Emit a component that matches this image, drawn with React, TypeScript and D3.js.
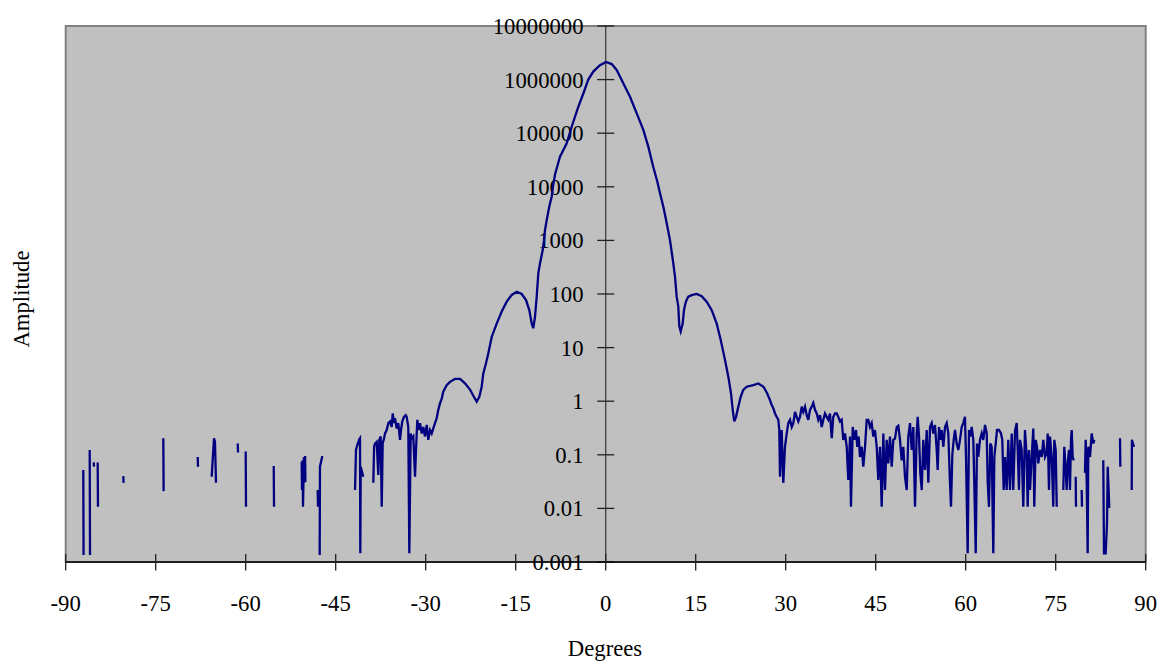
import React from "react";
import * as d3 from "d3";

type Pt = [number, number | null];

// Isolated fragments on the far left (gaps = null)
const leftBursts: Pt[] = [
  [-87.07, 0.052], [-87.02, 0.00135], [-86.5, null],
  [-86.0, 0.123], [-85.95, 0.00135], [-85.6, null],
  [-85.33, 0.072], [-85.28, 0.06], [-85.0, null],
  [-84.67, 0.072], [-84.62, 0.0107], [-84.0, null],
  [-80.4, 0.04], [-80.35, 0.03], [-80.0, null],
  [-73.73, 0.204], [-73.68, 0.021], [-73.0, null],
  [-68.0, 0.091], [-67.95, 0.06], [-67.0, null],
  [-65.67, 0.039], [-65.28, 0.204], [-65.12, 0.174], [-64.95, 0.03], [-64.0, null],
  [-61.33, 0.162], [-61.28, 0.11], [-61.0, null],
  [-60.0, 0.115], [-59.95, 0.0107], [-59.0, null],
  [-55.33, 0.062], [-55.28, 0.0107], [-55.0, null],
  [-50.67, 0.074], [-50.62, 0.022], [-50.5, 0.079], [-50.45, 0.0107],
  [-50.3, 0.09], [-50.25, 0.03], [-50.1, 0.095], [-50.05, 0.031], [-49.0, null],
  [-48.0, 0.022], [-47.95, 0.0107], [-47.8, null],
  [-47.67, 0.00135], [-47.62, 0.06], [-47.23, 0.095], [-46.0, null],
  [-41.78, 0.022], [-41.62, 0.123], [-41.4, 0.151], [-41.07, 0.195],
  [-40.95, 0.204], [-40.9, 0.00145], [-40.83, 0.06], [-40.4, 0.039], [-39.5, null],
];

// Noisy floor and sidelobes on the left
const leftSidelobes: Pt[] = [
  [-38.73, 0.03], [-38.6, 0.141], [-38.45, 0.162], [-38.17, 0.174], [-37.9, 0.042],
  [-37.73, 0.191], [-37.5, 0.219], [-37.33, 0.0107], [-37.17, 0.162], [-36.95, 0.2],
  [-36.78, 0.25], [-36.5, 0.29], [-36.23, 0.39], [-35.95, 0.42], [-35.67, 0.33],
  [-35.5, 0.59], [-35.28, 0.39], [-35.12, 0.48], [-34.83, 0.31], [-34.57, 0.39],
  [-34.28, 0.19], [-34.12, 0.29], [-33.9, 0.42], [-33.62, 0.51], [-33.33, 0.55],
  [-33.17, 0.51], [-32.9, 0.33], [-32.73, 0.00145], [-32.5, 0.25], [-32.33, 0.2],
  [-32.07, 0.22], [-31.78, 0.039], [-31.62, 0.12], [-31.4, 0.45], [-31.17, 0.29],
  [-30.95, 0.39], [-30.67, 0.25], [-30.4, 0.33], [-30.12, 0.22], [-29.83, 0.36],
  [-29.57, 0.19], [-29.28, 0.29], [-29.0, 0.25], [-28.73, 0.31], [-28.45, 0.39],
  [-28.17, 0.48], [-27.9, 0.69], [-27.62, 0.91], [-27.33, 1.12], [-27.07, 1.5],
  [-26.5, 2.0], [-25.95, 2.3], [-25.12, 2.6], [-24.28, 2.6], [-23.45, 2.15],
  [-22.62, 1.65], [-21.95, 1.2], [-21.5, 0.98], [-21.07, 1.2], [-20.67, 1.86],
  [-20.4, 3.3], [-19.95, 5.1], [-19.57, 7.8], [-19.0, 15.8], [-18.17, 28],
  [-17.33, 47], [-16.5, 72], [-15.67, 96], [-14.83, 110], [-14.0, 100],
  [-13.28, 77], [-12.73, 50], [-12.33, 28], [-12.07, 23], [-11.78, 38],
  [-11.5, 89], [-11.23, 245], [-10.95, 370],
];

// Main lobe
const mainLobe: Pt[] = [
  [-10.5, 660], [-10.28, 1000], [-10.12, 1550], [-9.83, 2400], [-9.4, 4300],
  [-9.0, 6600], [-8.73, 11000], [-8.45, 17000], [-7.62, 36300], [-6.5, 64600],
  [-5.67, 132000], [-4.57, 309000], [-3.73, 550000], [-2.9, 1000000], [-2.07, 1410000],
  [-0.95, 1860000], [0.05, 2140000], [1.0, 1950000], [1.83, 1510000], [2.93, 851000],
  [4.05, 479000], [5.17, 234000], [6.27, 115000], [7.1, 56200], [7.93, 23400],
  [8.6, 12600], [9.05, 7600], [9.6, 4270], [10.17, 2090], [10.72, 1000],
];

// Sidelobes on the right
const rightSidelobes: Pt[] = [
  [11.27, 372], [11.55, 209], [11.83, 89], [12.1, 58], [12.27, 25], [12.5, 20],
  [12.83, 28], [13.05, 50], [13.3, 68], [13.5, 78], [13.77, 89], [14.33, 95],
  [15.17, 100], [16.0, 91], [16.83, 72], [17.67, 50], [18.5, 28], [19.17, 13.8],
  [19.88, 5.9], [20.43, 2.9], [20.88, 1.41], [21.17, 0.69], [21.43, 0.42],
  [21.72, 0.51], [22.1, 0.79], [22.5, 1.2], [22.93, 1.62], [23.5, 1.86],
  [24.6, 2.0], [25.43, 2.14], [26.3, 1.86], [26.9, 1.41],
];

// Noisy floor on the right
const rightNoise: Pt[] = [
  [27.38, 1.05], [27.67, 0.85], [27.93, 0.74], [28.22, 0.59], [28.5, 0.51],
  [28.77, 0.45], [28.93, 0.29], [29.05, 0.039], [29.33, 0.29], [29.6, 0.03],
  [29.88, 0.141], [30.17, 0.25], [30.43, 0.39], [30.72, 0.45], [31.0, 0.33],
  [31.27, 0.39], [31.55, 0.63], [31.83, 0.51], [32.1, 0.42], [32.38, 0.51],
  [32.67, 0.79], [32.93, 0.63], [33.22, 0.79], [33.5, 0.55], [33.77, 0.45],
  [34.05, 0.69], [34.33, 0.79], [34.6, 0.93], [34.88, 0.69], [35.17, 0.59],
  [35.43, 0.45], [35.72, 0.55], [36.0, 0.33], [36.27, 0.45], [36.55, 0.59],
  [36.83, 0.51], [37.1, 0.45], [37.38, 0.59], [37.67, 0.204], [37.93, 0.51],
  [38.22, 0.59], [38.5, 0.59], [38.77, 0.51], [39.05, 0.42], [39.33, 0.45],
  [39.6, 0.19], [39.88, 0.25], [40.17, 0.141], [40.43, 0.034], [40.72, 0.219],
  [40.88, 0.0107], [41.17, 0.33], [41.43, 0.19], [41.72, 0.29], [41.93, 0.141],
  [42.17, 0.219], [42.38, 0.091], [42.67, 0.141], [42.93, 0.06], [43.22, 0.141],
  [43.5, 0.45], [43.77, 0.45], [44.05, 0.33], [44.33, 0.39], [44.6, 0.219],
  [44.88, 0.29], [45.17, 0.141], [45.43, 0.034], [45.72, 0.141], [46.0, 0.0107],
  [46.27, 0.25], [46.55, 0.022], [46.83, 0.19], [47.1, 0.069], [47.38, 0.219],
  [47.67, 0.06], [47.93, 0.19], [48.22, 0.2], [48.5, 0.33], [48.77, 0.35],
  [49.05, 0.19], [49.33, 0.079], [49.6, 0.141], [49.88, 0.039], [50.17, 0.022],
  [50.43, 0.219], [50.72, 0.39], [51.0, 0.123], [51.27, 0.33], [51.55, 0.0107],
  [51.83, 0.25], [52.0, 0.51], [52.22, 0.219], [52.43, 0.046], [52.67, 0.022],
  [52.93, 0.19], [53.22, 0.052], [53.5, 0.29], [53.77, 0.03], [54.05, 0.33],
  [54.33, 0.39], [54.6, 0.25], [54.88, 0.36], [55.17, 0.123], [55.33, 0.052],
  [55.55, 0.33], [55.77, 0.19], [56.0, 0.29], [56.27, 0.141], [56.55, 0.33],
  [56.83, 0.39], [57.1, 0.25], [57.38, 0.03], [57.55, 0.0107], [57.77, 0.1],
  [58.0, 0.19], [58.22, 0.29], [58.5, 0.162], [58.77, 0.123], [59.05, 0.19],
  [59.33, 0.33], [59.6, 0.39], [59.88, 0.51], [60.05, 0.091], [60.33, 0.00145],
  [60.55, 0.29], [60.77, 0.219], [61.0, 0.33], [61.27, 0.19], [61.43, 0.03],
  [61.67, 0.00145], [61.88, 0.162], [62.1, 0.091], [62.38, 0.19], [62.67, 0.25],
  [62.93, 0.19], [63.22, 0.36], [63.5, 0.25], [63.67, 0.03], [63.88, 0.0107],
  [64.1, 0.162], [64.33, 0.141], [64.6, 0.00145], [64.77, 0.091], [65.0, 0.162],
  [65.22, 0.29], [65.55, 0.29], [65.88, 0.25], [66.1, 0.19], [66.33, 0.022],
  [66.55, 0.091], [66.83, 0.022], [67.1, 0.19], [67.38, 0.022], [67.67, 0.25],
  [67.93, 0.022], [68.22, 0.28], [68.5, 0.39], [68.67, 0.123], [68.88, 0.022],
  [69.05, 0.19], [69.33, 0.123], [69.6, 0.0107], [69.88, 0.29], [70.17, 0.091],
  [70.33, 0.0107], [70.55, 0.123], [70.72, 0.022], [71.0, 0.091], [71.27, 0.31],
  [71.43, 0.0107], [71.67, 0.19], [71.88, 0.141], [72.1, 0.069], [72.38, 0.123],
  [72.67, 0.091], [72.93, 0.19], [73.22, 0.091], [73.5, 0.107], [73.67, 0.25],
  [73.88, 0.022], [74.05, 0.219], [74.33, 0.091], [74.6, 0.0107], [74.77, 0.19],
  [75.0, 0.123], [75.17, 0.0107], [75.6, null],
  [76.27, 0.022], [76.43, 0.141], [76.67, 0.052], [76.83, 0.022], [77.0, 0.069],
  [77.22, 0.123], [77.38, 0.022], [77.55, 0.19], [77.67, 0.29], [77.83, 0.091],
  [78.0, 0.079], [78.15, null],
  [78.33, 0.039], [78.38, 0.0107], [78.8, null],
  [79.33, 0.022], [79.38, 0.0107], [79.6, null],
  [79.88, 0.046], [80.0, 0.19], [80.17, 0.03], [80.33, 0.00145], [80.43, 0.141],
  [80.72, 0.091], [81.0, 0.25], [81.27, 0.162], [81.43, 0.19], [82.0, null],
  [82.93, 0.079], [83.05, 0.00145], [83.33, 0.00145], [83.55, 0.0052], [83.67, 0.06],
  [83.93, 0.0107], [84.1, 0.0107], [85.0, null],
  [85.72, 0.204], [85.77, 0.06], [86.5, null],
  [87.67, 0.022], [87.7, 0.19], [88.05, 0.141],
];

const xTicks = [-90, -75, -60, -45, -30, -15, 0, 15, 30, 45, 60, 75, 90];
const yTicks = [0.001, 0.01, 0.1, 1, 10, 100, 1000, 10000, 100000, 1000000, 10000000];
const yTickLabels = ["0.001", "0.01", "0.1", "1", "10", "100", "1000", "10000", "100000", "1000000", "10000000"];

export default function App() {
  const W = 1157;
  const H = 661;
  const left = 65.7, right = 1145.7, top = 26, bottom = 562;
  const x = d3.scaleLinear().domain([-90, 90]).range([left, right]);
  const y = d3.scaleLog().domain([0.001, 10000000]).range([bottom, top]);
  const x0 = x(0);

  const data: Pt[] = [...leftBursts, ...leftSidelobes, ...mainLobe, ...rightSidelobes, ...rightNoise];
  const line = d3
    .line<Pt>()
    .defined((d) => d[1] != null)
    .x((d) => x(d[0]))
    .y((d) => y(d[1] as number));

  const font = "'Liberation Serif', 'Times New Roman', serif";
  const fs = 22.7;

  return (
    <svg
      width={W}
      height={H}
      style={{ position: "absolute", left: 0, top: 0, background: "#ffffff" }}
      fontFamily={font}
    >
      <rect x={0} y={0} width={W} height={H} fill="#ffffff" />
      <rect x={left} y={top} width={right - left} height={bottom - top} fill="#c0c0c0" stroke="#808080" strokeWidth={2} />
      {/* y axis */}
      <line x1={x0} x2={x0} y1={top} y2={bottom} stroke="#404040" strokeWidth={1.3} />
      {yTicks.map((t, i) => (
        <g key={"y" + i}>
          <line x1={x0 - 8.5} x2={x0 + 8.5} y1={y(t)} y2={y(t)} stroke="#202020" strokeWidth={1.3} />
          <text x={583.5} y={y(t)} dy="0.35em" textAnchor="end" fontSize={fs} fill="#000">
            {yTickLabels[i]}
          </text>
        </g>
      ))}
      {/* x axis */}
      <line x1={left} x2={right} y1={bottom} y2={bottom} stroke="#000" strokeWidth={1.5} />
      {xTicks.map((t) => (
        <g key={"x" + t}>
          <line x1={x(t)} x2={x(t)} y1={bottom - 8} y2={bottom + 8.5} stroke="#202020" strokeWidth={1.3} />
          <text x={x(t)} y={611} textAnchor="middle" fontSize={fs} fill="#000">
            {t}
          </text>
        </g>
      ))}
      <path d={line(data) || ""} fill="none" stroke="#000080" strokeWidth={2.3} strokeLinejoin="miter" />
      <text x={605} y={656} textAnchor="middle" fontSize={fs} fill="#000">
        Degrees
      </text>
      <text transform="translate(29,299) rotate(-90)" textAnchor="middle" fontSize={fs} fill="#000">
        Amplitude
      </text>
    </svg>
  );
}
